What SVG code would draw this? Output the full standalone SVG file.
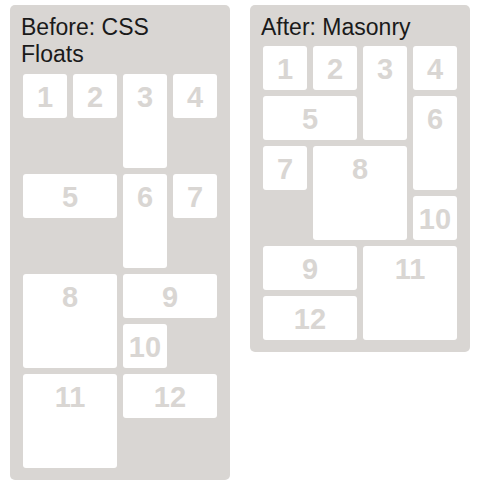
<svg xmlns="http://www.w3.org/2000/svg" width="481" height="487" viewBox="0 0 481 487">
<style>
.panel{fill:#d9d6d3}
.box{fill:#ffffff}
.num{font-family:"Liberation Sans",Arial,sans-serif;font-size:29px;font-weight:bold;fill:#d9d6d3;text-anchor:middle}
.title{font-family:"Liberation Sans",Arial,sans-serif;font-size:23px;fill:#1a1a1a}
</style>
<rect x="0" y="0" width="481" height="487" fill="#ffffff"/>
<g id="panel-before">
<rect class="panel" x="10" y="5" width="220" height="475" rx="5"/>
<text class="title" x="21" y="35">Before: CSS</text>
<text class="title" x="21" y="62">Floats</text>
</g>
<g id="panel-after">
<rect class="panel" x="250" y="5" width="220" height="347" rx="5"/>
<text class="title" x="261" y="35">After: Masonry</text>
</g>
<g id="before-1"><rect class="box" x="23" y="74" width="44" height="44" rx="3"/><text class="num" x="45" y="107">1</text></g>
<g id="before-2"><rect class="box" x="73" y="74" width="44" height="44" rx="3"/><text class="num" x="95" y="107">2</text></g>
<g id="before-3"><rect class="box" x="123" y="74" width="44" height="94" rx="3"/><text class="num" x="145" y="107">3</text></g>
<g id="before-4"><rect class="box" x="173" y="74" width="44" height="44" rx="3"/><text class="num" x="195" y="107">4</text></g>
<g id="before-5"><rect class="box" x="23" y="174" width="94" height="44" rx="3"/><text class="num" x="70" y="207">5</text></g>
<g id="before-6"><rect class="box" x="123" y="174" width="44" height="94" rx="3"/><text class="num" x="145" y="207">6</text></g>
<g id="before-7"><rect class="box" x="173" y="174" width="44" height="44" rx="3"/><text class="num" x="195" y="207">7</text></g>
<g id="before-8"><rect class="box" x="23" y="274" width="94" height="94" rx="3"/><text class="num" x="70" y="307">8</text></g>
<g id="before-9"><rect class="box" x="123" y="274" width="94" height="44" rx="3"/><text class="num" x="170" y="307">9</text></g>
<g id="before-10"><rect class="box" x="123" y="324" width="44" height="44" rx="3"/><text class="num" x="145" y="357">10</text></g>
<g id="before-11"><rect class="box" x="23" y="374" width="94" height="94" rx="3"/><text class="num" x="70" y="407">11</text></g>
<g id="before-12"><rect class="box" x="123" y="374" width="94" height="44" rx="3"/><text class="num" x="170" y="407">12</text></g>
<g id="after-1"><rect class="box" x="263" y="46" width="44" height="44" rx="3"/><text class="num" x="285" y="79">1</text></g>
<g id="after-2"><rect class="box" x="313" y="46" width="44" height="44" rx="3"/><text class="num" x="335" y="79">2</text></g>
<g id="after-3"><rect class="box" x="363" y="46" width="44" height="94" rx="3"/><text class="num" x="385" y="79">3</text></g>
<g id="after-4"><rect class="box" x="413" y="46" width="44" height="44" rx="3"/><text class="num" x="435" y="79">4</text></g>
<g id="after-5"><rect class="box" x="263" y="96" width="94" height="44" rx="3"/><text class="num" x="310" y="129">5</text></g>
<g id="after-6"><rect class="box" x="413" y="96" width="44" height="94" rx="3"/><text class="num" x="435" y="129">6</text></g>
<g id="after-7"><rect class="box" x="263" y="146" width="44" height="44" rx="3"/><text class="num" x="285" y="179">7</text></g>
<g id="after-8"><rect class="box" x="313" y="146" width="94" height="94" rx="3"/><text class="num" x="360" y="179">8</text></g>
<g id="after-10"><rect class="box" x="413" y="196" width="44" height="44" rx="3"/><text class="num" x="435" y="229">10</text></g>
<g id="after-9"><rect class="box" x="263" y="246" width="94" height="44" rx="3"/><text class="num" x="310" y="279">9</text></g>
<g id="after-11"><rect class="box" x="363" y="246" width="94" height="94" rx="3"/><text class="num" x="410" y="279">11</text></g>
<g id="after-12"><rect class="box" x="263" y="296" width="94" height="44" rx="3"/><text class="num" x="310" y="329">12</text></g>
</svg>
